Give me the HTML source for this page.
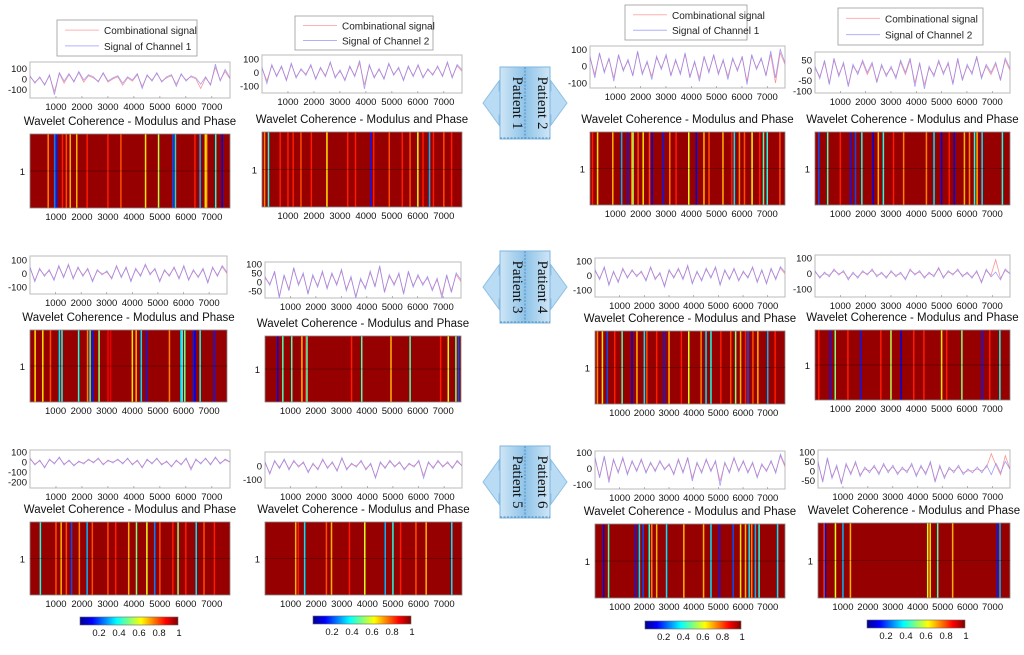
<!DOCTYPE html>
<html><head><meta charset="utf-8">
<style>
html,body{margin:0;padding:0;background:#fff;}
body{width:1024px;height:650px;overflow:hidden;font-family:"Liberation Sans",sans-serif;}
</style></head>
<body>
<svg id="fig" width="1024" height="650" viewBox="0 0 1024 650" xmlns="http://www.w3.org/2000/svg">
<defs>
<linearGradient id="jet" x1="0" x2="1" y1="0" y2="0">
<stop offset="0" stop-color="#00008f"/><stop offset="0.125" stop-color="#0000ff"/>
<stop offset="0.375" stop-color="#00ffff"/><stop offset="0.625" stop-color="#ffff00"/>
<stop offset="0.875" stop-color="#ff0000"/><stop offset="1" stop-color="#800000"/>
</linearGradient>
<linearGradient id="badge" x1="0" x2="1"><stop offset="0" stop-color="#cfe6f6"/><stop offset="0.5" stop-color="#8fc3e8"/><stop offset="1" stop-color="#cfe6f6"/></linearGradient>
</defs>
</svg>
<script>
// ---- data ----
const xTicks = [1000,2000,3000,4000,5000,6000,7000];
const cbTicks = [0.2,0.4,0.6,0.8,1];
const patientNames = ["Patient 1","Patient 2","Patient 3","Patient 4","Patient 5","Patient 6"];
const sigB1 = [30,-40,20,-60,40,-150,60,-20,50,-30,70,-10,40,20,-30,60,-20,10,30,-40,20,-10,50,-90,40,-20,60,-30,20,40,-70,50,-20,30,10,-50,20,-60,140,-20,90,10];
const sigR1 = [20,-30,10,-50,30,-120,50,-40,40,-20,60,-30,30,10,-20,50,-30,0,20,-60,10,-20,40,-70,30,-10,50,-20,10,30,-50,40,-10,20,0,-90,10,-50,110,-10,70,0];
const sigB2 = [40,-80,60,-30,50,-60,70,-40,30,-20,60,-50,40,-30,80,-40,20,-60,50,-30,90,-120,60,-40,30,-50,70,-20,40,-60,50,-30,60,-40,30,-20,50,-30,80,-40,60,20];
const sigR2 = [30,-60,50,-20,40,-50,60,-30,20,-10,50,-40,30,-20,70,-30,10,-50,40,-20,70,-90,50,-30,20,-40,60,-10,30,-50,40,-20,50,-30,20,-10,40,-20,70,-30,50,10];
const sigB3 = [60,-70,80,-40,50,-90,70,-30,40,-60,90,-50,30,-80,60,-20,70,-60,40,-50,80,-70,30,-90,60,-40,70,-50,40,-80,50,-30,60,-110,70,-20,50,-60,90,-70,100,20];
const sigR3 = [50,-50,70,-30,40,-70,60,-20,30,-50,80,-40,20,-60,50,-10,60,-50,30,-40,70,-60,20,-70,50,-30,60,-40,30,-60,40,-20,50,-90,60,-10,40,-50,70,-100,80,10];
const sigB4 = [20,-40,50,-70,60,-30,40,-80,30,-20,50,-10,40,-60,30,-30,20,-40,50,-10,60,-80,40,-90,20,-30,50,-20,40,-70,60,-50,30,-20,70,-40,30,-10,40,-50,60,10];
const sigR4 = [10,-30,40,-60,50,-20,30,-70,20,-10,40,-20,30,-50,20,-20,10,-30,40,-20,50,-60,30,-70,10,-20,40,-10,30,-60,50,-40,20,-10,60,-30,20,-20,30,-40,50,0];
const sigB5 = [50,-60,40,-20,30,-50,60,-30,70,-40,50,-20,40,-60,30,-10,20,-40,60,-30,50,-60,40,-20,70,-10,40,-60,30,-20,50,-40,60,-50,30,-30,40,-70,50,-20,60,10];
const sigR5 = [40,-50,30,-10,20,-40,50,-20,60,-30,40,-10,30,-50,20,0,10,-30,50,-20,40,-50,30,-10,60,0,30,-50,20,-10,40,-30,50,-40,20,-20,30,-60,40,-10,50,0];
const sigB6 = [30,-20,60,-90,40,-50,80,-20,50,-70,40,-30,60,-40,50,-20,70,-50,30,-90,20,-40,60,-30,90,-60,40,-20,50,-70,60,-30,40,-20,30,-50,20,-90,40,-60,50,10];
const sigR6 = [20,-10,50,-80,30,-40,70,-10,40,-60,30,-20,50,-30,40,-10,60,-40,20,-80,10,-30,50,-20,80,-50,30,-10,40,-60,50,-20,30,-10,20,-40,10,-70,30,-50,40,0];
const sigB7 = [40,-30,60,-70,30,-50,50,-20,40,-10,30,-40,60,-30,20,-80,40,-20,50,-30,70,-60,30,-40,50,-20,60,-70,40,-30,50,-40,30,-20,60,-50,40,-60,50,-30,60,20];
const sigR7 = [30,-20,50,-60,20,-40,40,-10,30,0,20,-30,50,-20,10,-70,30,-10,40,-20,60,-50,20,-30,40,-10,50,-60,30,-20,40,-30,20,-10,50,-40,30,-50,40,-20,50,10];
const sigB8 = [20,-30,10,-20,30,-10,20,-40,10,-30,20,-10,30,-20,10,-30,20,-20,10,-40,30,-10,20,-30,10,-20,40,-30,20,-10,30,-20,10,-30,20,-60,30,-20,10,-40,30,0];
const sigR8 = [10,-20,0,-10,20,0,10,-30,0,-20,10,0,20,-10,0,-20,10,-10,0,-30,20,0,10,-20,0,-10,30,-20,10,0,20,-10,0,-20,10,-50,20,-10,90,-30,20,0];
const sigB9 = [40,-30,20,-60,30,-20,50,-30,20,-40,10,-20,30,-10,40,-30,20,-10,30,-20,40,-30,20,-60,30,-20,40,-30,10,-50,20,-30,40,-80,30,-20,40,-30,50,-20,30,0];
const sigR9 = [30,-20,10,-50,20,-10,40,-20,10,-30,0,-10,20,0,30,-20,10,0,20,-10,30,-20,10,-50,20,-10,30,-20,0,-40,10,-20,30,-60,20,-10,30,-20,40,-10,20,0];
const sigB10 = [30,-60,40,-20,50,-30,40,-10,30,-50,20,-30,50,-20,30,-40,60,-30,20,-10,40,-30,20,-90,30,-20,40,-10,30,-30,20,-10,40,-90,30,-20,40,-10,30,-20,40,0];
const sigR10 = [20,-50,30,-10,40,-20,30,0,20,-40,10,-20,40,-10,20,-30,50,-20,10,0,30,-20,10,-80,20,-10,30,0,20,-20,10,0,30,-70,20,-10,30,0,20,-10,30,0];
const sigB11 = [70,-60,80,-90,60,-30,70,-40,50,-20,60,-30,40,-20,50,-10,30,-40,60,-30,70,-80,40,-30,60,-20,50,-110,40,-30,70,-20,50,-30,40,-60,30,-20,50,-30,90,20];
const sigR11 = [60,-50,70,-70,50,-20,60,-30,40,-10,50,-20,30,-10,40,0,20,-30,50,-20,60,-60,30,-20,50,-10,40,-80,30,-20,60,-10,40,-20,30,-50,20,-10,40,-20,80,10];
const sigB12 = [50,-60,70,-40,30,-70,40,-20,50,-30,20,-10,30,-20,40,-10,30,-20,20,-10,40,-30,30,-20,50,-60,30,-40,20,-10,30,-20,10,-10,20,-10,30,-20,40,-10,50,10];
const sigR12 = [40,-50,60,-30,20,-60,30,-10,40,-20,10,0,20,-10,30,0,20,-10,10,0,30,-20,20,-10,40,-50,20,-30,10,0,20,-10,0,0,10,0,20,90,30,-20,80,10];
const pos1 = [700,950,1020,1250,1400,1550,1800,2200,3000,3500,4450,4950,5500,5600,6350,6550,6750,6800,7150,7400];
const val1 = [0.75,0.25,0.15,0.85,0.8,0.7,0.7,0.85,0.85,0.8,0.65,0.55,0.2,0.35,0.85,0.3,0.65,0.7,0.4,0.1];
const pos2 = [100,250,700,1000,1200,1500,1900,2500,3300,3600,4200,4300,4900,5400,5700,6000,6200,6450,6600,7000,7300];
const val2 = [0.75,0.4,0.85,0.85,0.85,0.8,0.85,0.65,0.85,0.85,0.15,0.85,0.8,0.85,0.8,0.6,0.85,0.3,0.85,0.8,0.85];
const pos3 = [100,300,900,1250,1500,1650,1700,1900,2100,2350,2450,2900,3150,3400,3900,4200,4500,4700,5250,5600,5700,5900,6100,6400,6700,6850,7000,7500];
const val3 = [0.85,0.65,0.7,0.3,0.15,0.75,0.55,0.8,0.65,0.8,0.1,0.15,0.75,0.85,0.6,0.1,0.7,0.8,0.7,0.85,0.35,0.75,0.8,0.6,0.85,0.45,0.4,0.8];
const pos4 = [150,500,1000,1400,1600,1850,2300,2500,2700,3100,3500,4400,4700,5000,5300,5500,5900,6100,6300,6400,6600,7400];
const val4 = [0.2,0.45,0.85,0.15,0.2,0.4,0.1,0.7,0.4,0.85,0.75,0.75,0.35,0.1,0.85,0.1,0.7,0.75,0.4,0.7,0.35,0.4];
const pos5 = [200,500,800,1150,1250,1900,2250,2350,2450,2700,3050,3150,4000,4150,4350,4550,5450,5900,5950,6050,6400,6450,6650,7200];
const val5 = [0.65,0.65,0.8,0.35,0.4,0.4,0.75,0.4,0.15,0.5,0.88,0.9,0.65,0.7,0.35,0.15,0.75,0.35,0.4,0.5,0.15,0.1,0.4,0.15];
const pos6 = [500,700,1050,1450,1600,1650,3400,3800,4950,5700,6900,7200,7500,7600];
const val6 = [0.1,0.45,0.45,0.7,0.85,0.45,0.85,0.45,0.7,0.45,0.85,0.6,0.5,0.2];
const pos7 = [100,300,500,800,1100,1500,1700,2000,2100,2500,2800,3000,3500,3800,4300,4500,4700,5100,5500,5700,5900,6100,6200,6400,6600,7000,7300];
const val7 = [0.75,0.65,0.2,0.85,0.45,0.1,0.7,0.35,0.8,0.85,0.15,0.7,0.85,0.6,0.75,0.35,0.4,0.85,0.8,0.5,0.7,0.85,0.2,0.8,0.7,0.3,0.85];
const pos8 = [150,600,800,1300,1800,2600,3000,3400,3900,4300,5000,5200,5800,6600,6900,7300];
const val8 = [0.85,0.15,0.5,0.85,0.15,0.85,0.55,0.1,0.85,0.85,0.65,0.85,0.5,0.15,0.85,0.4];
const pos9 = [400,1000,1200,1400,1600,1900,2200,2400,3000,3300,3800,4100,4500,4800,5000,5500,5700,6000,6400,6700,7100];
const val9 = [0.4,0.8,0.7,0.8,0.2,0.75,0.3,0.8,0.8,0.85,0.7,0.5,0.6,0.25,0.8,0.85,0.5,0.85,0.35,0.8,0.85];
const pos10 = [1200,1300,1550,2400,2600,3300,3900,4700,5000,5300,5900,6300,7300];
const val10 = [0.7,0.85,0.35,0.8,0.7,0.85,0.6,0.3,0.4,0.85,0.8,0.7,0.35];
const pos11 = [350,550,1650,1800,1950,2200,2300,2500,2900,3600,4400,4700,5050,5600,5900,6100,6250,6350,6500,6650,7400];
const val11 = [0.1,0.45,0.15,0.35,0.2,0.4,0.75,0.7,0.35,0.7,0.7,0.35,0.15,0.2,0.65,0.7,0.35,0.75,0.3,0.4,0.35];
const pos12 = [250,300,700,1000,1300,4400,4500,4800,5400,7200,7300];
const val12 = [0.8,0.1,0.6,0.3,0.7,0.6,0.65,0.45,0.7,0.15,0.3];

// ---- layout (not data) ----
const panels = [
 {b:sigB1,r:sigR1,p:pos1,v:val1,x:30,w:200,sy:62,sh:36,ymin:-180,ymax:160,yt:[100,0,-100],cy:134,ch:74,leg:[57,20,140,36,"Signal of Channel 1"]},
 {b:sigB2,r:sigR2,p:pos2,v:val2,x:262,w:200,sy:55,sh:38,ymin:-150,ymax:130,yt:[100,0,-100],cy:132,ch:75,leg:[295,16,138,34,"Signal of Channel 2"]},
 {b:sigB3,r:sigR3,p:pos3,v:val3,x:590,w:195,sy:46,sh:42,ymin:-130,ymax:120,yt:[100,0,-100],cy:132,ch:73,leg:[625,5,122,35,"Signal of Channel 1"]},
 {b:sigB4,r:sigR4,p:pos4,v:val4,x:815,w:195,sy:52,sh:41,ymin:-110,ymax:90,yt:[50,0,-50,-100],cy:132,ch:73,leg:[838,8,145,37,"Signal of Channel 2"]},
 {b:sigB5,r:sigR5,p:pos5,v:val5,x:30,w:197,sy:256,sh:38,ymin:-150,ymax:130,yt:[100,0,-100],cy:330,ch:72},
 {b:sigB6,r:sigR6,p:pos6,v:val6,x:265,w:196,sy:262,sh:36,ymin:-90,ymax:110,yt:[100,50,0,-50],cy:336,ch:66},
 {b:sigB7,r:sigR7,p:pos7,v:val7,x:595,w:190,sy:258,sh:39,ymin:-150,ymax:120,yt:[100,0,-100],cy:331,ch:73},
 {b:sigB8,r:sigR8,p:pos8,v:val8,x:815,w:195,sy:255,sh:42,ymin:-150,ymax:120,yt:[100,0,-100],cy:330,ch:70},
 {b:sigB9,r:sigR9,p:pos9,v:val9,x:30,w:200,sy:450,sh:38,ymin:-260,ymax:120,yt:[100,0,-100,-200],cy:522,ch:73},
 {b:sigB10,r:sigR10,p:pos10,v:val10,x:265,w:197,sy:452,sh:36,ymin:-160,ymax:100,yt:[0,-100],cy:522,ch:73},
 {b:sigB11,r:sigR11,p:pos11,v:val11,x:595,w:190,sy:451,sh:38,ymin:-130,ymax:110,yt:[100,0,-100],cy:524,ch:74},
 {b:sigB12,r:sigR12,p:pos12,v:val12,x:818,w:192,sy:450,sh:38,ymin:-90,ymax:110,yt:[100,50,0,-50],cy:523,ch:75}
];
const colorbars = [[80,617,98],[313,616,98],[645,621,96],[867,620,98]];
const badges = [[525,103,1],[525,287,3],[525,482,5]];

const svg = document.getElementById('fig');
const NS = 'http://www.w3.org/2000/svg';
function mk(tag, attrs, parent){const e=document.createElementNS(NS,tag);for(const k in attrs)e.setAttribute(k,attrs[k]);(parent||svg).appendChild(e);return e;}
function jet(v){
  const f=(x)=>Math.max(0,Math.min(1,x));
  const r=f(1.5-Math.abs(4*v-3)), g=f(1.5-Math.abs(4*v-2)), b=f(1.5-Math.abs(4*v-1));
  return `rgb(${Math.round(r*255)},${Math.round(g*255)},${Math.round(b*255)})`;
}
const XMAX = 7700;
const FS = 9.5;
panels.forEach((P,i)=>{
  const g = mk('g',{});
  
  
  const xs = (t)=>P.x + t/XMAX*P.w;
  const ys = (v)=>P.sy + (P.ymax-v)/(P.ymax-P.ymin)*P.sh;
  if(P.leg){
    const [lx,ly,lw,lh,lab]=P.leg;
    const lg = mk('g',{},g);
    
    
    mk('rect',{x:lx,y:ly,width:lw,height:lh,fill:'#fff',stroke:'#999','stroke-width':0.8},lg);
    mk('line',{x1:lx+8,x2:lx+42,y1:ly+lh*0.28,y2:ly+lh*0.28,stroke:'#ffb0b0','stroke-width':1},lg);
    mk('line',{x1:lx+8,x2:lx+42,y1:ly+lh*0.72,y2:ly+lh*0.72,stroke:'#b0b0ff','stroke-width':1},lg);
    const t1=mk('text',{x:lx+47,y:ly+lh*0.28+4,'font-size':10,fill:'#222'},lg);t1.textContent='Combinational signal';
    const t2=mk('text',{x:lx+47,y:ly+lh*0.72+4,'font-size':10,fill:'#222'},lg);t2.textContent=lab;
  }
  const sa = mk('rect',{x:P.x,y:P.sy,width:P.w,height:P.sh,fill:'#fff',stroke:'#bbb','stroke-width':1},g);
  
  
  const clipId='c'+i;
  const cp=mk('clipPath',{id:clipId},g); mk('rect',{x:P.x,y:P.sy,width:P.w,height:P.sh},cp);
  const line=(arr,col)=>{
    const n=arr.length;
    const d=arr.map((v,k)=>(k?'L':'M')+xs(k/(n-1)*XMAX).toFixed(1)+','+ys(v).toFixed(1)).join('');
    return mk('path',{d:d,fill:'none',stroke:col,'stroke-width':0.8,'stroke-opacity':0.75,'clip-path':`url(#${clipId})`},g);
  };
  const rl=line(P.r,'#ff7070');  
  const bl=line(P.b,'#7f7fff');  
  P.yt.forEach(v=>{
    const t=mk('text',{x:P.x-3,y:ys(v)+3.5,'font-size':FS,'text-anchor':'end',fill:'#111'},g);t.textContent=v;
    
    
  });
  xTicks.forEach(v=>{
    mk('line',{x1:xs(v),x2:xs(v),y1:P.sy+P.sh,y2:P.sy+P.sh-2,stroke:'#888','stroke-width':0.6},g);
    const t=mk('text',{x:xs(v),y:P.sy+P.sh+12,'font-size':FS,'text-anchor':'middle',fill:'#111'},g);t.textContent=v;
    
    
  });
  const tt=mk('text',{x:P.x+P.w/2,y:P.cy-9,'font-size':11.5,'text-anchor':'middle',fill:'#111'},g);
  tt.textContent='Wavelet Coherence - Modulus and Phase';
  
  
  const cx=(t)=>P.x + t/XMAX*P.w;
  const bg=mk('rect',{x:P.x,y:P.cy,width:P.w,height:P.ch,fill:'#960000'},g);
  
  
  P.p.forEach((t,k)=>{
    const s=mk('rect',{x:cx(t)-0.75,y:P.cy,width:1.5,height:P.ch,fill:jet(P.v[k])},g);
    
    
  });
  mk('rect',{x:P.x,y:P.cy,width:P.w,height:P.ch,fill:'none',stroke:'#888','stroke-width':0.8},g);
  mk('line',{x1:P.x,x2:P.x+P.w,y1:P.cy+P.ch/2,y2:P.cy+P.ch/2,stroke:'#000','stroke-width':0.6,opacity:0.5},g);
  const one=mk('text',{x:P.x-5,y:P.cy+P.ch/2+4,'font-size':FS,'text-anchor':'end',fill:'#111'},g);one.textContent='1';
  xTicks.forEach(v=>{
    const t=mk('text',{x:cx(v),y:P.cy+P.ch+12,'font-size':FS,'text-anchor':'middle',fill:'#111'},g);t.textContent=v;
    
    
  });
});
colorbars.forEach(([x,y,w],i)=>{
  const g=mk('g',{});
  
  
  mk('rect',{x:x,y:y,width:w,height:8,fill:'url(#jet)',stroke:'#666','stroke-width':0.6},g);
  cbTicks.forEach(v=>{
    const t=mk('text',{x:x+w*(v-0.05)/0.95*0.97+4,y:y+19,'font-size':FS,'text-anchor':'middle',fill:'#111'},g);t.textContent=v;
  });
});
badges.forEach(([cx,cy,n])=>{
  const g=mk('g',{});
  
  
  mk('path',{d:`M${cx-42},${cy} L${cx-26},${cy-22} L${cx-26},${cy-12} L${cx-24},${cy-12} L${cx-24},${cy+12} L${cx-26},${cy+12} L${cx-26},${cy+22} Z`,fill:'#b9dcf4',stroke:'#8dbfe3'},g);
  mk('path',{d:`M${cx+42},${cy} L${cx+26},${cy-22} L${cx+26},${cy-12} L${cx+24},${cy-12} L${cx+24},${cy+12} L${cx+26},${cy+12} L${cx+26},${cy+22} Z`,fill:'#b9dcf4',stroke:'#8dbfe3'},g);
  mk('rect',{x:cx-25,y:cy-36,width:50,height:72,fill:'url(#badge)',stroke:'#7fb6de','stroke-width':1},g);
  mk('line',{x1:cx,x2:cx,y1:cy-36,y2:cy+36,stroke:'#4f8fbf','stroke-dasharray':'2,1.5'},g);
  mk('line',{x1:cx-25,x2:cx+25,y1:cy+35,y2:cy+35,stroke:'#4f8fbf','stroke-dasharray':'2,1.5'},g);
  const a=mk('text',{x:0,y:0,'font-size':15,'font-family':'Liberation Serif, serif','text-anchor':'middle',fill:'#111',transform:`translate(${cx-12},${cy}) rotate(90)`},g);a.textContent=patientNames[n-1];
  const b=mk('text',{x:0,y:0,'font-size':15,'font-family':'Liberation Serif, serif','text-anchor':'middle',fill:'#111',transform:`translate(${cx+13},${cy}) rotate(90)`},g);b.textContent=patientNames[n];
});
</script>
</body></html>
